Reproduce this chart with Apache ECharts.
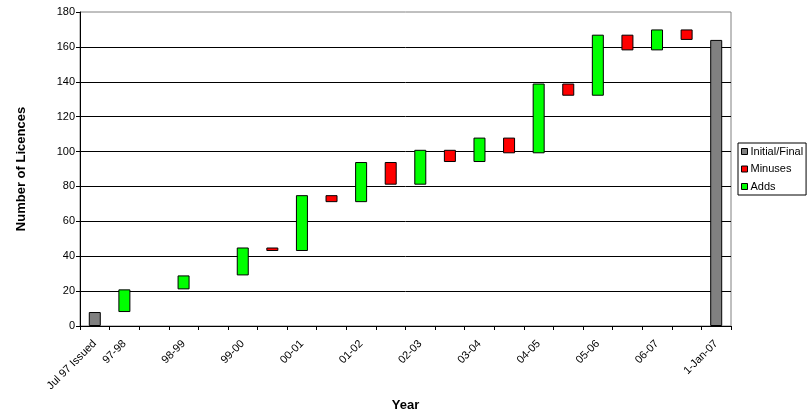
<!DOCTYPE html>
<html>
<head>
<meta charset="utf-8">
<script src="https://cdn.jsdelivr.net/npm/echarts@6/dist/echarts.min.js"></script>
<style>
  html, body { margin: 0; padding: 0; background: #fff; }
  #chart { width: 810px; height: 414px; }
</style>
</head>
<body>
<div id="chart"></div>
<script>
// Licence counts: opening/closing totals plus yearly additions and removals
const categories = ['Jul 97 Issued', '97-98', '', '98-99', '', '99-00', '', '00-01', '', '01-02', '',
  '02-03', '', '03-04', '', '04-05', '', '05-06', '', '06-07', '', '1-Jan-07'];
const initialFinal = [8, null, null, null, null, null, null, null, null, null, null,
  null, null, null, null, null, null, null, null, null, null, 164];
const adds = [null, 13, null, 8, null, 16, null, 32, null, 23, null,
  20, null, 14, null, 40, null, 35, null, 12, null, null];
const minuses = [null, null, null, null, null, null, 2, null, 4, null, 13,
  null, 7, null, 9, null, 7, null, 9, null, 6, null];
const yTicks = { min: 0, max: 180, step: 20 };

// Invisible offset under each floating bar = running total before the change
const offsets = [];
let running = 0;
for (let i = 0; i < categories.length; i++) {
  if (initialFinal[i] != null) {
    offsets.push(0);
    running = initialFinal[i];
  } else if (adds[i] != null) {
    offsets.push(running);
    running += adds[i];
  } else if (minuses[i] != null) {
    running -= minuses[i];
    offsets.push(running);
  } else {
    offsets.push(0);
  }
}

const FONT = 'Arial, "Liberation Sans", sans-serif';
const barStyle = (color) => ({ color: color, borderColor: '#000', borderWidth: 1 });

const chart = echarts.init(document.getElementById('chart'), null, { renderer: 'canvas' });
chart.setOption({
  animation: false,
  backgroundColor: '#fff',
  textStyle: { fontFamily: FONT, color: '#000' },
  grid: {
    left: 80, right: 79, top: 12, bottom: 88,
    outerBoundsMode: 'none',
    show: true, borderColor: '#808080', borderWidth: 1, backgroundColor: '#fff'
  },
  legend: {
    orient: 'vertical',
    left: 738, top: 143,
    data: ['Initial/Final', 'Minuses', 'Adds'],
    icon: 'rect',
    itemWidth: 6, itemHeight: 6, itemGap: 6.5,
    padding: [3, 3, 3, 3],
    borderColor: '#000', borderWidth: 1,
    textStyle: { fontFamily: FONT, fontSize: 11, color: '#000', padding: [0, 0, 0, -2] },
    itemStyle: { borderColor: '#000', borderWidth: 1 }
  },
  xAxis: {
    type: 'category',
    data: categories,
    name: 'Year',
    nameLocation: 'middle',
    nameGap: 70,
    nameTextStyle: { fontFamily: FONT, fontSize: 13, fontWeight: 'bold', color: '#000' },
    axisLine: { show: true, lineStyle: { color: '#000', width: 1 } },
    axisTick: { show: true, interval: 0, length: 4, lineStyle: { color: '#000' } },
    axisLabel: { interval: 0, rotate: 45, fontSize: 11, color: '#000', fontFamily: FONT, margin: 16 },
    splitLine: { show: false }
  },
  yAxis: {
    type: 'value',
    min: yTicks.min, max: yTicks.max, interval: yTicks.step,
    name: 'Number of Licences',
    nameLocation: 'middle',
    nameGap: 52,
    nameTextStyle: { fontFamily: FONT, fontSize: 13, fontWeight: 'bold', color: '#000' },
    axisLine: { show: true, lineStyle: { color: '#000', width: 1 } },
    axisTick: { show: true, length: 4, lineStyle: { color: '#000' } },
    axisLabel: { fontSize: 11, color: '#000', fontFamily: FONT, margin: 5 },
    splitLine: { show: true, showMaxLine: false, lineStyle: { color: '#000', width: 1 } }
  },
  series: [
    {
      name: 'offset', type: 'bar', stack: 'flow', barWidth: 12,
      data: offsets, itemStyle: { color: 'transparent' },
      silent: true, legendHoverLink: false
    },
    { name: 'Initial/Final', type: 'bar', stack: 'flow', barWidth: 12, data: initialFinal, itemStyle: barStyle('#808080') },
    { name: 'Minuses', type: 'bar', stack: 'flow', barWidth: 12, data: minuses, itemStyle: barStyle('#ff0000') },
    { name: 'Adds', type: 'bar', stack: 'flow', barWidth: 12, data: adds, itemStyle: barStyle('#00ff00') }
  ]
});
</script>
</body>
</html>
